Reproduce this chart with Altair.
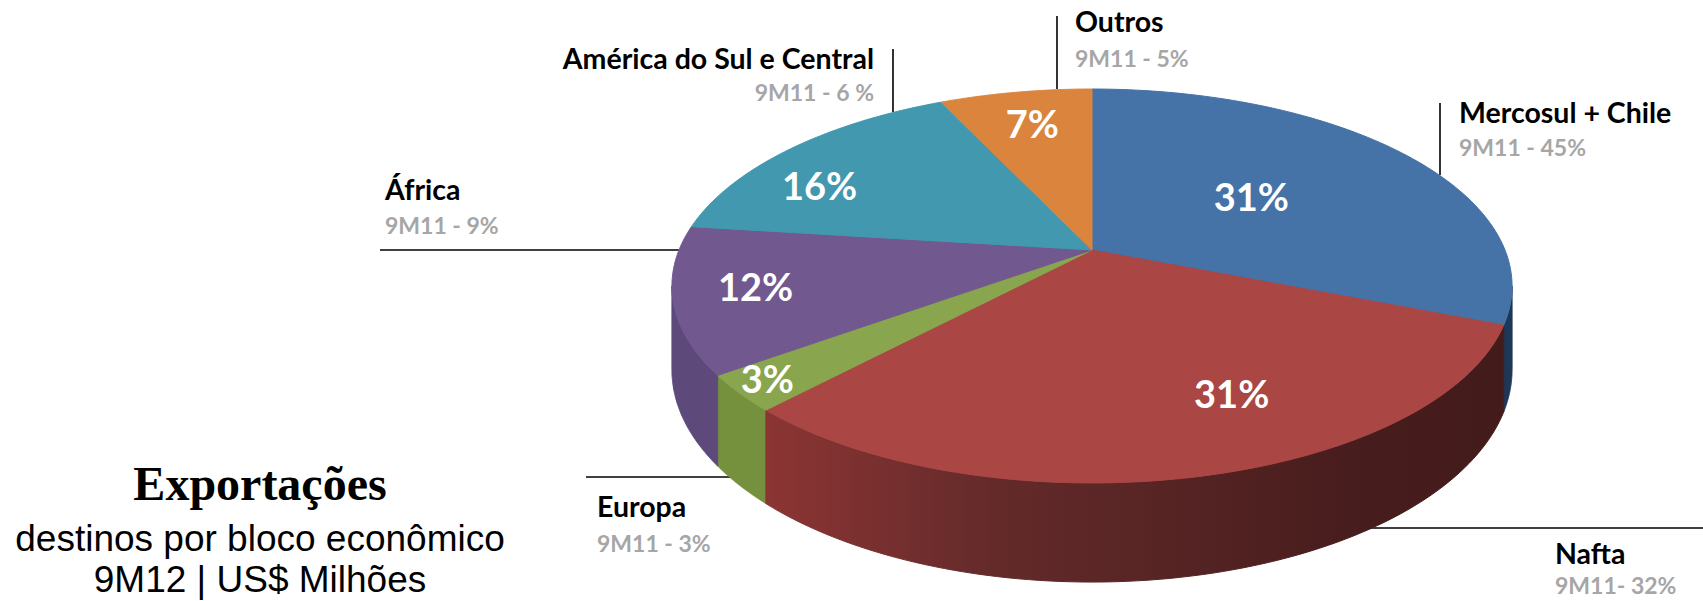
import altair as alt
import pandas as pd

# ---------------- data ----------------
names = ["Mercosul + Chile", "Nafta", "Europa", "África", "América do Sul e Central", "Outros"]
share_9m12 = [31, 31, 3, 12, 16, 7]
prior_9m11 = ["9M11 - 45%", "9M11- 32%", "9M11 - 3%", "9M11 - 9%", "9M11 - 6 %", "9M11 - 5%"]
title_lines = ["Exportações", "destinos por bloco econômico", "9M12 | US$ Milhões"]

# ---------------- styles ----------------
top_colors = ["#4572A7", "#AA4643", "#89A54E", "#71588F", "#4198AF", "#DB843D"]
wall_colors = ["#1f3757", "#5a2625", "#76913d", "#5d4a7b", "#2f7185", "#a5612c"]

# ---------------- layout (pixels) ----------------
W, H = 1703, 601
CX, VY = 1092, 250              # pie vertex
A, KY, G = 413, 190.4, -0.1827  # perspective ellipse parameters
D = 81                          # depth of the pie
W0, W1 = 1.754, 4.529           # visible wall angles (radians, clockwise from top)
N = 90
label_radius = [0.49, 0.74, 0.93, 0.81, 0.78, 0.75]   # label placement (fraction of radius)
label_turn_deg = [0, -11, 0, 0, -10, 0]               # label placement nudge (degrees)

callout_pos = [  # x, name y, prior y, align
    (1459, 114, 149, "left"),
    (1555, 555, 587, "left"),
    (597, 508, 545, "left"),
    (385, 191, 227, "left"),
    (874, 60, 94, "right"),
    (1075, 23, 60, "left"),
]
leader_pos = [
    (1440, 103, 1440, 175),
    (1363, 528, 1703, 528),
    (586, 477, 737, 477),
    (380, 250, 679, 250),
    (893, 49, 893, 112),
    (1057, 16, 1057, 89),
]

xs = alt.Scale(domain=[0, W], nice=False, zero=False)
ys = alt.Scale(domain=[0, H], nice=False, zero=False, reverse=True)
top_scale = alt.Scale(domain=names, range=top_colors)
wall_scale = alt.Scale(domain=names, range=wall_colors)

slice_rows = [
    {"idx": i, "name": n, "value": v, "lr": lr, "lt": lt}
    for i, (n, v, lr, lt) in enumerate(zip(names, share_9m12, label_radius, label_turn_deg))
]

base = alt.Chart(alt.Data(values=slice_rows)).transform_window(
    cum="sum(value)", sort=[alt.SortField("idx")], frame=[None, 0]
).transform_calculate(
    a0="(datum.cum - datum.value) / 100 * 2 * PI"
).transform_calculate(
    a1="datum.cum / 100 * 2 * PI"
)

den = f"(1 + ({G}) * datum.v)"

# top faces
top = base.transform_calculate(
    k=f"sequence(-1, {N + 1})"
).transform_flatten(["k"]).transform_calculate(
    th=f"datum.a0 + (datum.a1 - datum.a0) * max(datum.k, 0) / {N}"
).transform_calculate(
    u="sin(datum.th)"
).transform_calculate(
    v="-cos(datum.th)"
).transform_calculate(
    px=f"datum.k < 0 ? {CX} : {CX} + {A} * datum.u / {den}"
).transform_calculate(
    py=f"datum.k < 0 ? {VY} : {VY} + {KY} * datum.v / {den}"
).mark_line(interpolate="linear-closed", strokeWidth=1).encode(
    x=alt.X("px:Q", scale=xs, axis=None),
    y=alt.Y("py:Q", scale=ys, axis=None),
    order=alt.Order("k:Q"),
    fill=alt.Fill("name:N", scale=top_scale, legend=None),
    stroke=alt.Stroke("name:N", scale=top_scale, legend=None),
)

# walls
wall_base = base.transform_calculate(
    b0=f"max(datum.a0, {W0})"
).transform_calculate(
    b1=f"min(datum.a1, {W1})"
).transform_filter("datum.b1 > datum.b0").transform_calculate(
    k=f"sequence(0, {2 * N + 2})"
).transform_flatten(["k"]).transform_calculate(
    th=(f"datum.k <= {N} ? datum.b0 + (datum.b1 - datum.b0) * datum.k / {N}"
        f" : datum.b1 - (datum.b1 - datum.b0) * (datum.k - {N + 1}) / {N}")
).transform_calculate(
    u="sin(datum.th)"
).transform_calculate(
    v="-cos(datum.th)"
).transform_calculate(
    px=f"{CX} + {A} * datum.u / {den}"
).transform_calculate(
    py=f"{VY} + {KY} * datum.v / {den} + (datum.k > {N} ? {D} / {den} : 0)"
)

enc_xy = dict(
    x=alt.X("px:Q", scale=xs, axis=None),
    y=alt.Y("py:Q", scale=ys, axis=None),
    order=alt.Order("k:Q"),
)

walls_other = wall_base.transform_filter(
    alt.datum.name != names[1]
).mark_line(interpolate="linear-closed", strokeWidth=1).encode(
    fill=alt.Fill("name:N", scale=wall_scale, legend=None),
    stroke=alt.Stroke("name:N", scale=wall_scale, legend=None),
    **enc_xy,
)

nafta_grad = alt.Gradient(
    gradient="linear",
    stops=[
        alt.GradientStop(offset=0, color="#8b3534"),
        alt.GradientStop(offset=0.31, color="#642a2a"),
        alt.GradientStop(offset=0.83, color="#461c1c"),
        alt.GradientStop(offset=1, color="#441b1b"),
    ],
    x1=0, x2=1, y1=0, y2=0,
)
wall_nafta = wall_base.transform_filter(
    alt.datum.name == names[1]
).mark_line(interpolate="linear-closed", strokeWidth=1, fill=nafta_grad, stroke=nafta_grad).encode(**enc_xy)

# inside percentage labels
pct = base.transform_calculate(
    mid="(datum.a0 + datum.a1) / 2 + datum.lt * PI / 180"
).transform_calculate(
    u="datum.lr * sin(datum.mid)"
).transform_calculate(
    v="-datum.lr * cos(datum.mid)"
).transform_calculate(
    px=f"{CX} + {A} * datum.u / {den}"
).transform_calculate(
    py=f"{VY} + {KY} * datum.v / {den}"
).transform_calculate(
    txt="datum.value + '%'"
).mark_text(font="Lato", fontWeight="bold", fontSize=38, color="white", baseline="middle", align="center").encode(
    x=alt.X("px:Q", scale=xs, axis=None),
    y=alt.Y("py:Q", scale=ys, axis=None),
    text="txt:N",
)

# callouts
call_df = pd.DataFrame({
    "name": names,
    "prior": prior_9m11,
    "lx": [p[0] for p in callout_pos],
    "ny": [p[1] for p in callout_pos],
    "py": [p[2] for p in callout_pos],
    "al": [p[3] for p in callout_pos],
})
call_layers = []
for al in ["left", "right"]:
    sub = alt.Chart(call_df).transform_filter(alt.datum.al == al)
    call_layers.append(sub.mark_text(font="Lato", fontWeight="bold", fontSize=28.5, color="black",
                                     align=al, baseline="middle").encode(
        x=alt.X("lx:Q", scale=xs, axis=None), y=alt.Y("ny:Q", scale=ys, axis=None), text="name:N"))
    call_layers.append(sub.mark_text(font="Lato", fontWeight="bold", fontSize=23, color="#a6a6a6",
                                     align=al, baseline="middle").encode(
        x=alt.X("lx:Q", scale=xs, axis=None), y=alt.Y("py:Q", scale=ys, axis=None), text="prior:N"))

lead_df = pd.DataFrame({
    "x1": [p[0] for p in leader_pos], "y1": [p[1] for p in leader_pos],
    "x2": [p[2] for p in leader_pos], "y2": [p[3] for p in leader_pos],
})
leaders = alt.Chart(lead_df).mark_rule(color="black", strokeWidth=1.6).encode(
    x=alt.X("x1:Q", scale=xs, axis=None), x2="x2:Q",
    y=alt.Y("y1:Q", scale=ys, axis=None), y2="y2:Q",
)

title_df = pd.DataFrame({"t": title_lines, "tx": [260, 260, 260], "ty": [486, 540, 581]})
t1 = alt.Chart(title_df.iloc[[0]]).mark_text(font="Liberation Serif", fontWeight="bold", fontSize=48,
                                             color="black", align="center", baseline="middle").encode(
    x=alt.X("tx:Q", scale=xs, axis=None), y=alt.Y("ty:Q", scale=ys, axis=None), text="t:N")
t2 = alt.Chart(title_df.iloc[[1, 2]]).mark_text(font="Liberation Sans", fontSize=37,
                                                color="black", align="center", baseline="middle").encode(
    x=alt.X("tx:Q", scale=xs, axis=None), y=alt.Y("ty:Q", scale=ys, axis=None), text="t:N")

chart = alt.layer(
    leaders, walls_other, wall_nafta, top, pct, *call_layers, t1, t2
).resolve_scale(fill="independent", stroke="independent").properties(
    width=W, height=H, padding=0, autosize=alt.AutoSizeParams(type="none"),
    background="white",
).configure_view(stroke=None)

chart.save("out.html", embed_options={"renderer": "svg", "actions": False})
